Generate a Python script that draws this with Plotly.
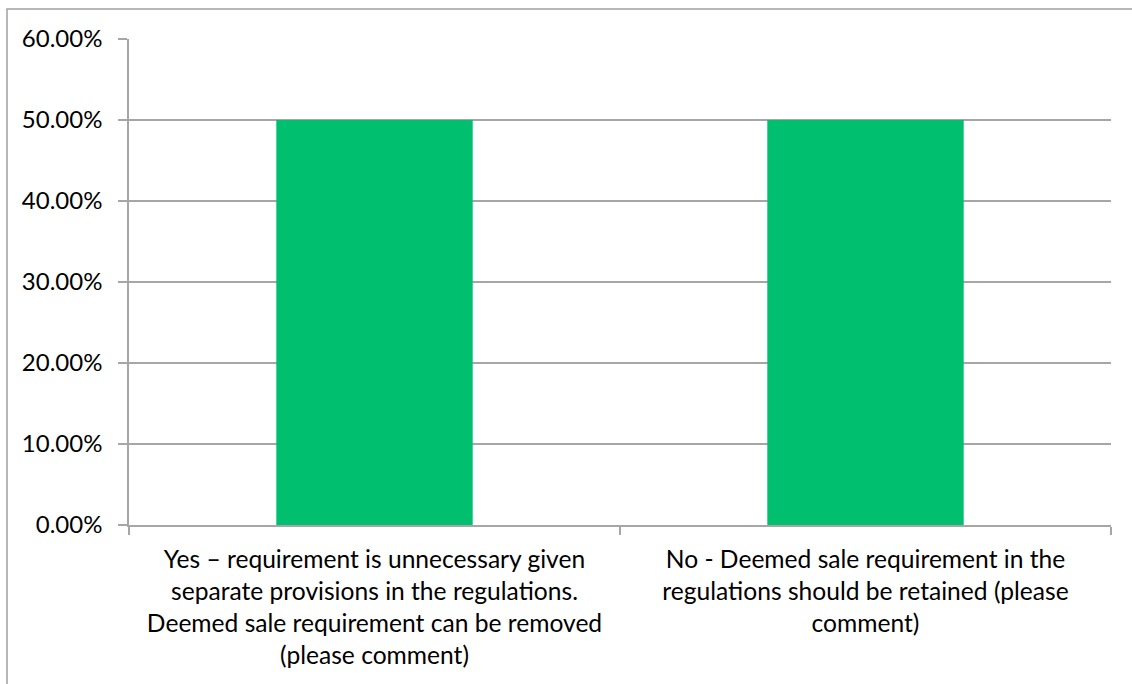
import plotly.graph_objects as go

# Survey responses and their share of respondents
categories = [
    "Yes – requirement is unnecessary given<br>separate provisions in the regulations.<br>Deemed sale requirement can be removed<br>(please comment)",
    "No - Deemed sale requirement in the<br>regulations should be retained (please<br>comment)",
]
shares = [0.50, 0.50]
y_ticks = [0.0, 0.1, 0.2, 0.3, 0.4, 0.5, 0.6]

W, H = 1132, 684
L, R, T, B = 129, 21, 39, 159
pw, ph = W - L - R, H - T - B

fig = go.Figure(
    go.Bar(
        x=categories,
        y=shares,
        marker=dict(color="#00BF6F", line=dict(width=0)),
        width=0.4,
    )
)

grid = "#A6A6A6"
fig.update_layout(
    width=W,
    height=H,
    margin=dict(l=L, r=R, t=T, b=B, autoexpand=False),
    paper_bgcolor="white",
    plot_bgcolor="white",
    font=dict(family="Lato, Calibri, sans-serif", size=24, color="#000000"),
    showlegend=False,
    bargap=0.6,
    xaxis=dict(
        type="category",
        tickson="boundaries",
        ticks="outside",
        ticklen=8,
        tickcolor=grid,
        tickwidth=1.5,
        showline=True,
        linecolor=grid,
        linewidth=1.5,
        showgrid=False,
        tickangle=0,
        tickfont=dict(size=24.6),
        ticklabelstandoff=12,
    ),
    yaxis=dict(
        range=[0, 0.6],
        tickvals=y_ticks,
        tickformat=".2%",
        ticks="outside",
        ticklen=9,
        tickcolor=grid,
        tickwidth=1.5,
        showline=True,
        linecolor=grid,
        linewidth=1.5,
        showgrid=True,
        gridcolor=grid,
        gridwidth=1.5,
        zeroline=False,
        ticklabelstandoff=11,
    ),
    shapes=[
        # chart frame, left and top edges visible
        dict(
            type="rect",
            xref="paper",
            yref="paper",
            x0=(7 - L) / pw,
            x1=(W + 20 - L) / pw,
            y0=-0.5,
            y1=(H - B - 9) / ph,
            line=dict(color="#A0A0A0", width=1.5),
            layer="below",
        )
    ],
)

fig.write_html("out.html")
